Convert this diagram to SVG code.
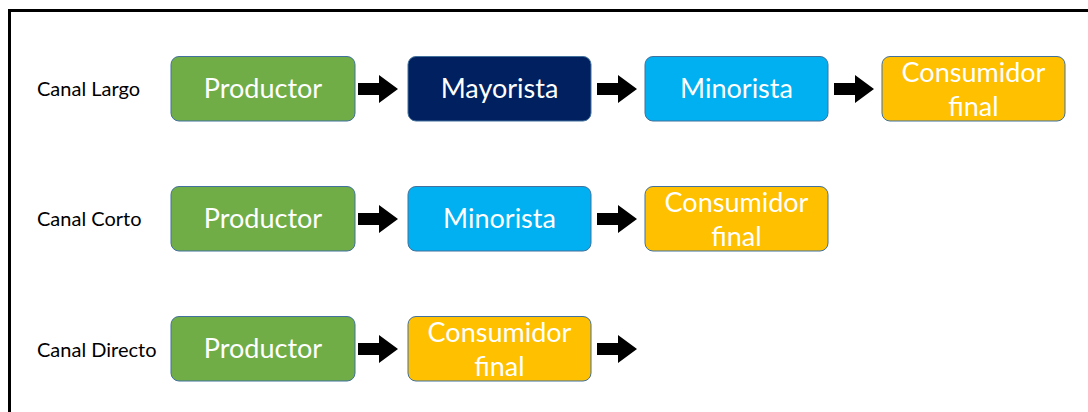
<svg xmlns="http://www.w3.org/2000/svg" width="1088" height="412" viewBox="0 0 1088 412">
<defs>
<style>
.box{stroke:#41719C;stroke-width:1}
.g{fill:#70AD47}
.n{fill:#002060}
.b{fill:#00B0F0}
.o{fill:#FFC000}
.t{font-family:Lato,"Liberation Sans",sans-serif;font-size:27px;fill:#ffffff;text-anchor:middle}
.lbl{font-family:Lato,"Liberation Sans",sans-serif;font-size:20px;fill:#000000}
.arr{fill:#000000}
</style>
<path id="ar" d="M0,-6 H21 V-14 L40,0 L21,14 V6 H0 Z"/>
</defs>
<rect width="1088" height="412" fill="#ffffff"/>
<path d="M9.5,412 V10.5 H1088" fill="none" stroke="#000" stroke-width="3"/>

<g id="labels">
<text class="lbl" x="37" y="96">Canal Largo</text>
<text class="lbl" x="37" y="226">Canal Corto</text>
<text class="lbl" x="37" y="357">Canal Directo</text>
</g>

<g id="r1-productor"><rect class="box g" x="171" y="56.5" width="184" height="64.5" rx="8"/><text class="t" x="263" y="98">Productor</text></g>
<g id="r1-mayorista"><rect class="box n" x="408" y="56.5" width="183" height="64.5" rx="8"/><text class="t" x="499.5" y="98">Mayorista</text></g>
<g id="r1-minorista"><rect class="box b" x="645" y="56.5" width="183" height="64.5" rx="8"/><text class="t" x="736.5" y="98">Minorista</text></g>
<g id="r1-consumidor"><rect class="box o" x="882" y="56.5" width="183" height="64.5" rx="8"/><text class="t" x="973.5" y="82">Consumidor</text><text class="t" x="973.5" y="116">final</text></g>

<g id="r2-productor"><rect class="box g" x="171" y="186.5" width="184" height="64.5" rx="8"/><text class="t" x="263" y="228">Productor</text></g>
<g id="r2-minorista"><rect class="box b" x="408" y="186.5" width="183" height="64.5" rx="8"/><text class="t" x="499.5" y="228">Minorista</text></g>
<g id="r2-consumidor"><rect class="box o" x="645" y="186.5" width="183" height="64.5" rx="8"/><text class="t" x="736.5" y="212">Consumidor</text><text class="t" x="736.5" y="246">final</text></g>

<g id="r3-productor"><rect class="box g" x="171" y="316.5" width="184" height="64.5" rx="8"/><text class="t" x="263" y="358">Productor</text></g>
<g id="r3-consumidor"><rect class="box o" x="408" y="316.5" width="183" height="64.5" rx="8"/><text class="t" x="499.5" y="342">Consumidor</text><text class="t" x="499.5" y="376">final</text></g>

<g id="connectors" class="arr">
<use href="#ar" x="358" y="89"/>
<use href="#ar" x="597" y="89"/>
<use href="#ar" x="834" y="89"/>
<use href="#ar" x="358" y="219"/>
<use href="#ar" x="597" y="219"/>
<use href="#ar" x="358" y="349"/>
<use href="#ar" x="597" y="349"/>
</g>
</svg>
